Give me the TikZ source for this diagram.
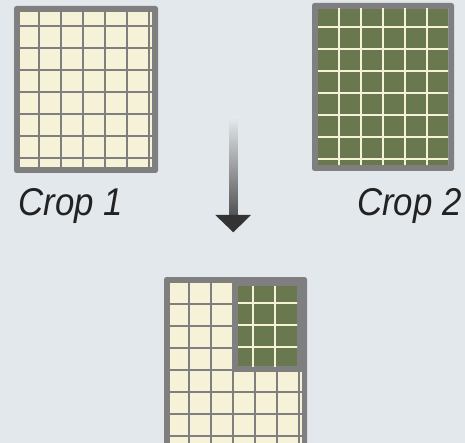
\documentclass[tikz,border=0pt]{standalone}
\usepackage{fontspec}
\setmainfont{Liberation Sans}
\definecolor{bg}{HTML}{E3E8EC}
\definecolor{cream}{HTML}{F6F2D8}
\definecolor{olive}{HTML}{69784E}
\definecolor{frame}{HTML}{7F7F7F}
\definecolor{ink}{HTML}{222222}
\definecolor{arrowdark}{HTML}{333333}
\tikzset{
  framebox/.style={fill=frame, rounded corners=2.5pt},
  gridline/.style={line width=2.2pt},
  label/.style={inner sep=0pt, text=ink, anchor=base west, font=\fontsize{38.7}{40}\selectfont\itshape}
}
\begin{document}
\begin{tikzpicture}[x=1pt,y=-1pt]
\useasboundingbox (0,0) rectangle (465,443);
\fill[bg] (0,0) rectangle (465,443);

% Crop 1
\fill[framebox] (14,6) rectangle (158,173);
\fill[cream] (20,12) rectangle (152,167);
\begin{scope}
  \clip (20,12) rectangle (152,167);
  \foreach \k in {0,...,5} \draw[gridline,frame] ({39+22*\k},0) -- ({39+22*\k},180);
  \foreach \k in {0,...,6} \draw[gridline,frame] (0,{26+22*\k}) -- (170,{26+22*\k});
\end{scope}

% Crop 2
\fill[framebox] (312,3) rectangle (454,171);
\fill[olive] (318,9) rectangle (448,165);
\begin{scope}
  \clip (318,9) rectangle (448,165);
  \foreach \k in {0,...,5} \draw[gridline,cream] ({339+22*\k},0) -- ({339+22*\k},180);
  \foreach \k in {0,...,6} \draw[gridline,cream] (300,{27+22*\k}) -- (465,{27+22*\k});
\end{scope}

% labels
\node[label] (c1) at (18.5,216) {\scalebox{0.9}[1]{Crop 1}};
\node[label] (c2) at (357,216) {\scalebox{0.9}[1]{Crop 2}};

% arrow
\coordinate (abot) at (233.3,232.3);
\shade[top color=bg!90!white, bottom color=arrowdark!85!white] (229.3,116.7) rectangle (237.3,216);
\fill[arrowdark] (215.3,215) -- (251,215) -- (abot) -- cycle;

% Result
\fill[framebox] (164,277) rectangle (307,460);
\fill[cream] (170,283) rectangle (302,460);
\begin{scope}
  \clip (170,283) rectangle (302,460);
  \foreach \k in {0,...,5} \draw[gridline,frame] ({189+22*\k},270) -- ({189+22*\k},460);
  \foreach \k in {0,...,6} \draw[gridline,frame] (160,{304+22*\k}) -- (310,{304+22*\k});
\end{scope}
\fill[frame] (232,280) rectangle (305,372);
\fill[olive] (238,286) rectangle (297,366);
\begin{scope}
  \clip (238,286) rectangle (297,366);
  \foreach \x in {253,275} \draw[gridline,cream] (\x,280) -- (\x,370);
  \foreach \y in {303,325,347} \draw[gridline,cream] (230,\y) -- (300,\y);
\end{scope}
\end{tikzpicture}
\end{document}
